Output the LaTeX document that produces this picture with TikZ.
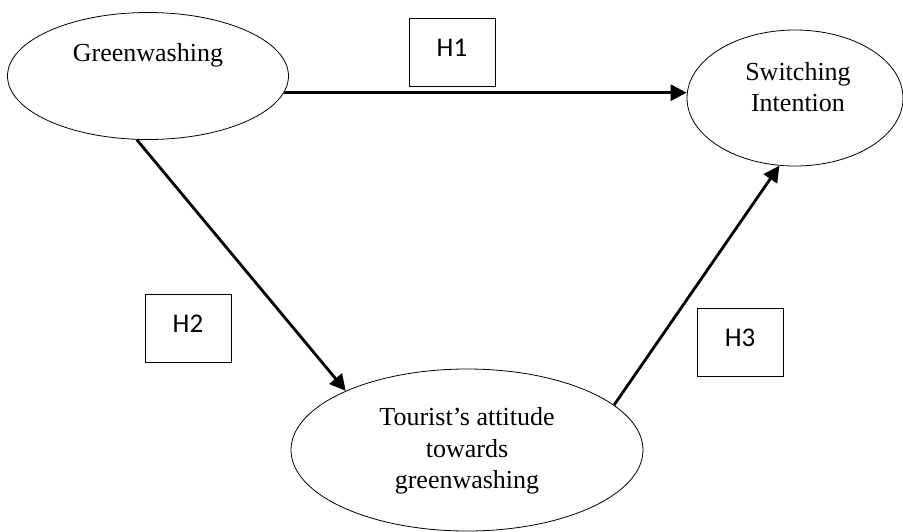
\documentclass[tikz,border=0pt]{standalone}
\usepackage{fontspec}
\setmainfont{Liberation Serif}
\newfontfamily\boxfont{Carlito}
\usepackage{tikz}
\usetikzlibrary{arrows.meta}
\usetikzlibrary{shapes}
\usetikzlibrary{calc}
\tikzstyle{arrow} = [line width=2.8pt, -{Triangle[length=16pt, width=16pt]}]
\tikzstyle{oval} = [draw, ellipse, line width=0.8pt, inner sep=0pt]
\tikzstyle{ovaltext} = [align=center, font=\fontsize{26}{31.5}\selectfont]
\tikzstyle{hbox} = [draw, line width=0.9pt, minimum width=86pt, minimum height=68pt, text height=18pt, text depth=10pt, font=\boxfont\fontsize{27}{32}\selectfont]

\begin{document}
\begin{tikzpicture}[x=1pt, y=-1pt]
    \useasboundingbox (0,0) rectangle (903,531);
    % constructs
    \node[oval, minimum width=281pt, minimum height=127pt] (gw) at (148,76) {};
    \node[oval, minimum width=216pt, minimum height=136pt] (si) at (795,98) {};
    \node[oval, minimum width=352pt, minimum height=162pt] (ta) at (467,450) {};
    \node[ovaltext] (gwtext) at (148,55) {Greenwashing};
    \node[ovaltext] (sitext) at (798,87) {Switching\\Intention};
    \node[ovaltext] (tatext) at (467,451) {Tourist’s attitude\\towards\\greenwashing};
    % hypotheses
    \node[hbox] (h1) at (452,52) {H1};
    \node[hbox] (h2) at (188,328) {H2};
    \node[hbox] (h3) at (740,342) {H3};
    % paths
    \draw[arrow] (gw.-7) -- (gw.-7 -| si.west);
    \draw[arrow] (gw.-100) -- (ta.154);
    \draw[arrow] (ta.17) -- (si.-103);
\end{tikzpicture}
\end{document}
